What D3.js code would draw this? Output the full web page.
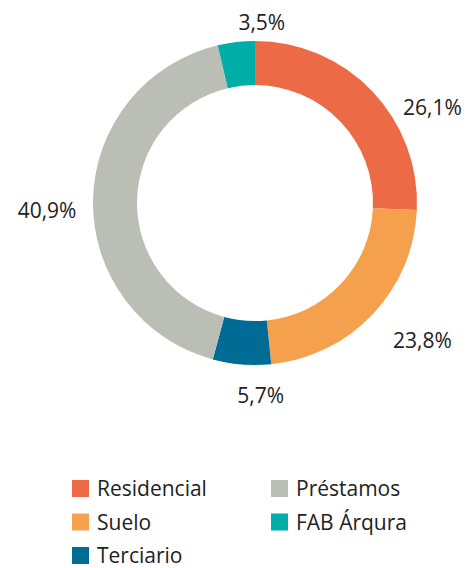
<!DOCTYPE html>
<html>
<head>
<meta charset="utf-8">
<script src="https://cdn.jsdelivr.net/npm/d3@7"></script>
<style>
  body { margin: 0; background: #fff; }
  text { font-family: "Open Sans", sans-serif; fill: #222; }
</style>
</head>
<body>
<script>
// chart data
var categories = ["Residencial", "Suelo", "Terciario", "Préstamos", "FAB Árqura"];
// slice shares as drawn in the picture (the printed labels differ a little)
var shares = [25.7, 22.7, 5.8, 42.1, 3.7];
var pctLabels = ["26,1%", "23,8%", "5,7%", "40,9%", "3,5%"];
var colors = ["#EC6A45", "#F5A04C", "#006C96", "#BBBEB4", "#00ADA7"];

var width = 473, height = 568;
var cx = 255, cy = 203;
var outerR = 162, innerR = 118, labelR = 200;

// small nudges so the labels sit where the original put them
var labelNudge = [[33, 42], [22, 0], [22, -7], [-8, 10], [30, 18]];

var svg = d3.select("body").append("svg")
  .attr("width", width)
  .attr("height", height);

var pie = d3.pie().sort(null).value(function(d){ return d; });
var arcs = pie(shares);

var arc = d3.arc().innerRadius(innerR).outerRadius(outerR);
var labelArc = d3.arc().innerRadius(labelR).outerRadius(labelR);

var g = svg.append("g").attr("transform", "translate(" + cx + "," + cy + ")");

g.selectAll(".slice")
  .data(arcs)
  .enter().append("path")
  .attr("class", "slice")
  .attr("d", arc)
  .style("fill", function(d, i){ return colors[i]; })
  .style("stroke", "none");

g.selectAll(".pct")
  .data(arcs)
  .enter().append("text")
  .attr("class", "pct")
  .attr("x", function(d, i){ return labelArc.centroid(d)[0] + labelNudge[i][0]; })
  .attr("y", function(d, i){ return labelArc.centroid(d)[1] + labelNudge[i][1]; })
  .attr("text-anchor", "middle")
  .attr("dominant-baseline", "central")
  .style("font-size", "21px")
  .text(function(d, i){ return pctLabels[i]; });

// legend, two columns
var colX = [72, 271], rowY = 480, rowH = 33.5, box = 17;

var legend = svg.append("g").selectAll(".leg")
  .data(categories)
  .enter().append("g")
  .attr("class", "leg")
  .attr("transform", function(d, i){
    var col = i < 3 ? 0 : 1, row = i < 3 ? i : i - 3;
    return "translate(" + colX[col] + "," + (rowY + row * rowH) + ")";
  });

legend.append("rect")
  .attr("width", box)
  .attr("height", box)
  .style("fill", function(d, i){ return colors[i]; });

legend.append("text")
  .attr("x", 25)
  .attr("y", 16)
  .style("font-size", "21px")
  .text(function(d){ return d; });
</script>
</body>
</html>
